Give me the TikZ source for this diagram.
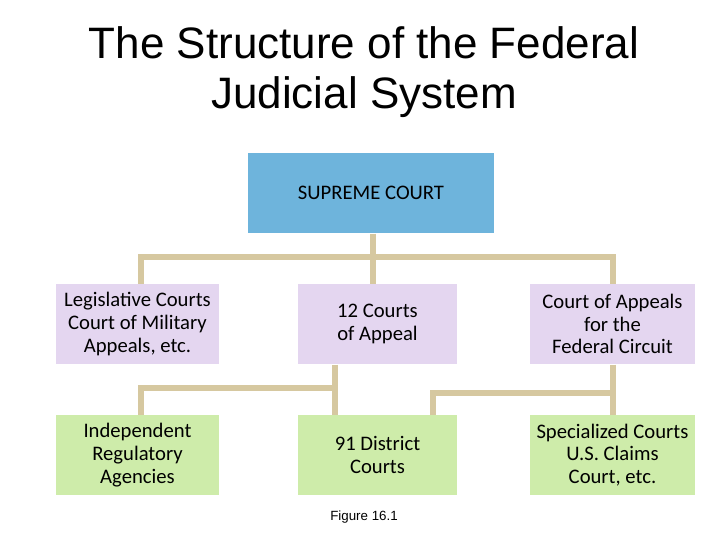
\documentclass[tikz,border=0pt]{standalone}
\usepackage{fontspec}
\setmainfont{Liberation Sans}
\newfontfamily\boxfont{Carlito}
\usetikzlibrary{positioning}
\definecolor{supblue}{RGB}{110,180,220}
\definecolor{midlilac}{RGB}{228,214,240}
\definecolor{lowgreen}{RGB}{206,236,170}
\definecolor{bustan}{RGB}{214,200,160}
\tikzset{every picture/.style={line width=0.75pt}}
\tikzset{
  court/.style={minimum width=122pt,minimum height=60pt,inner sep=0pt,align=center,font=\boxfont\fontsize{15.5}{17}\selectfont},
  tier/.style={court,fill=midlilac},
  lower/.style={court,fill=lowgreen},
  bus/.style={draw=bustan,line width=4.5pt}
}
\begin{document}
\begin{tikzpicture}[x=0.75pt,y=0.75pt,yscale=-1,xscale=1]

\useasboundingbox (0,0) rectangle (728,546);

% Title
\node (title) at (364,72) [align=center,font=\fontsize{33}{37.5}\selectfont] {The Structure of the Federal\\Judicial System};

% Connectors
\coordinate (topbus) at (373,257);
\coordinate (leftbus) at (335,388);
\coordinate (rightbus) at (613,393);

% Boxes
\node (supreme) at (371,193) [court,minimum width=184.5pt,fill=supblue] {SUPREME COURT};
\node (legis) at (137.5,324) [tier] {Legislative Courts\\Court of Military\\Appeals, etc.};
\node (appeal) at (377.5,324) [tier,minimum width=119pt] {12 Courts\\of Appeal};
\node (fedcirc) at (612.5,324) [tier,minimum width=124pt] {Court of Appeals\\for the\\Federal Circuit};
\node (agency) at (137.5,455) [lower] {Independent\\Regulatory\\Agencies};
\node (district) at (377.5,455) [lower,minimum width=119pt] {91 District\\Courts};
\node (special) at (612.5,455) [lower,minimum width=124pt] {Specialized Courts\\U.S. Claims\\Court, etc.};

\draw[bus] (supreme.south -| topbus) -- (topbus);
\draw[bus] (legis.north -| 141,0) |- (topbus) -| (fedcirc.north -| 613,0);
\draw[bus] (topbus) -- (appeal.north -| topbus);
\draw[bus] (appeal.south -| leftbus) -- (leftbus);
\draw[bus] (agency.north -| 141,0) |- (leftbus) -- (district.north -| leftbus);
\draw[bus] (fedcirc.south -| rightbus) -- (rightbus) -- (special.north -| rightbus);
\draw[bus] (rightbus) -| (district.north -| 433,0);

% Caption
\node (caption) at (364,517) [font=\fontsize{10}{12}\selectfont] {Figure 16.1};

\end{tikzpicture}
\end{document}
